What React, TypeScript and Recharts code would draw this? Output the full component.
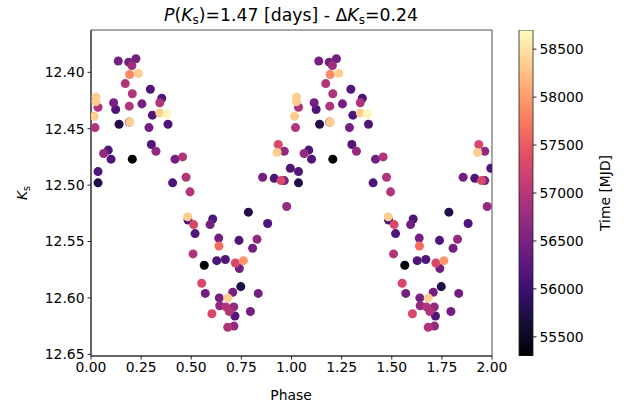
import React from 'react';
import { ScatterChart, Scatter, XAxis, YAxis, ZAxis, Cell, ReferenceArea, BarChart, Bar } from 'recharts';

// phase-folded observations (phase in [0,1)), plotted twice (phase and phase+1)
const phases = [
  0.136, 0.188, 0.224, 0.204, 0.193, 0.236, 0.171, 0.206, 0.296, 0.353,
  0.343, 0.254, 0.191, 0.113, 0.123, 0.025, 0.025, 0.035, 0.015, 0.020,
  0.140, 0.191, 0.193, 0.306, 0.343, 0.378, 0.384, 0.289, 0.301, 0.324,
  0.086, 0.063, 0.100, 0.206, 0.419, 0.457, 0.035, 0.035, 0.407, 0.474,
  0.494, 0.482, 0.484, 0.512, 0.519, 0.607, 0.594, 0.637, 0.638, 0.509,
  0.565, 0.627, 0.670, 0.720, 0.760, 0.740, 0.738, 0.828, 0.806, 0.785,
  0.881, 0.976, 0.552, 0.570, 0.747, 0.707, 0.682, 0.640, 0.642, 0.673,
  0.712, 0.690, 0.718, 0.603, 0.795, 0.834, 0.682, 0.713, 0.856, 0.914,
  0.948, 0.964, 0.934, 0.928, 0.964, 0.994,
];
const mags = [
  12.390, 12.391, 12.388, 12.394, 12.402, 12.401, 12.410, 12.419, 12.415, 12.423,
  12.427, 12.428, 12.430, 12.427, 12.433, 12.422, 12.426, 12.431, 12.439, 12.449,
  12.446, 12.444, 12.444, 12.438, 12.436, 12.437, 12.446, 12.449, 12.464, 12.470,
  12.469, 12.472, 12.477, 12.477, 12.477, 12.475, 12.488, 12.498, 12.498, 12.493,
  12.506, 12.528, 12.531, 12.535, 12.543, 12.530, 12.535, 12.547, 12.554, 12.561,
  12.571, 12.567, 12.566, 12.569, 12.567, 12.574, 12.549, 12.548, 12.556, 12.524,
  12.534, 12.519, 12.587, 12.596, 12.590, 12.595, 12.600, 12.600, 12.607, 12.608,
  12.608, 12.612, 12.616, 12.614, 12.612, 12.596, 12.626, 12.625, 12.493, 12.494,
  12.496, 12.496, 12.464, 12.471, 12.470, 12.485,
];
const times = [
  56450, 56450, 56450, 56800, 57850, 58350, 56950, 56950, 56150, 56150,
  56950, 56450, 56950, 56450, 56150, 58350, 58350, 56950, 58350, 56950,
  55750, 56450, 58350, 56150, 58350, 58650, 56150, 56450, 56150, 56700,
  56150, 56700, 56150, 55300, 56450, 56950, 56150, 55750, 56150, 56950,
  56950, 58350, 56150, 57300, 56150, 56150, 56450, 56450, 57650, 56950,
  55300, 56150, 56150, 57300, 57950, 56450, 56150, 56700, 56450, 55750,
  56150, 56700, 57300, 56450, 55750, 56450, 58350, 56450, 56700, 56950,
  56700, 56950, 56150, 57300, 56450, 56450, 56950, 56700, 56450, 56150,
  57300, 56450, 57300, 58350, 56700, 56150,
];

const xTicks = [0, 0.25, 0.5, 0.75, 1.0, 1.25, 1.5, 1.75, 2.0];
const yTicks = [12.4, 12.45, 12.5, 12.55, 12.6, 12.65];
const cbTicks = [55500, 56000, 56500, 57000, 57500, 58000, 58500];
const tMin = 55300;
const tMax = 58700;
const yDomain: [number, number] = [12.3625, 12.6515];

const magma = ['#000004', '#140e36', '#3b0f70', '#641a80', '#8c2981', '#b73779', '#de4968', '#f7705c', '#fe9f6d', '#fecf92', '#fcfdbf'];

function hexToRgb(h: string) {
  return [parseInt(h.slice(1, 3), 16), parseInt(h.slice(3, 5), 16), parseInt(h.slice(5, 7), 16)];
}
function magmaColor(f: number) {
  const v = Math.max(0, Math.min(1, f)) * (magma.length - 1);
  const i = Math.min(magma.length - 2, Math.floor(v));
  const t = v - i;
  const a = hexToRgb(magma[i]);
  const b = hexToRgb(magma[i + 1]);
  const c = a.map((x, k) => Math.round(x + (b[k] - x) * t));
  return `rgb(${c[0]},${c[1]},${c[2]})`;
}

const base = phases.map((p, i) => ({ phase: p, mag: mags[i], time: times[i] }));
const points = [...base, ...base.map((d) => ({ ...d, phase: d.phase + 1 }))].sort((a, b) => a.time - b.time);
const gradStops = [...magma].reverse();

const FONT = 'DejaVu Sans';
const tickStyle = { fontSize: 13.9, fill: '#000', fontFamily: FONT };

export default function App() {
  return (
    <div style={{ position: 'absolute', left: 0, top: 0, width: 628, height: 405, background: '#fff' }}>
      <div style={{ position: 'absolute', left: 0, top: 0 }}>
        <ScatterChart width={628} height={405} margin={{ top: 30, right: 136, bottom: 19, left: 31 }}>
          <XAxis
            type="number"
            dataKey="phase"
            domain={[0, 2]}
            ticks={xTicks}
            tickFormatter={(v: number) => v.toFixed(2)}
            tick={tickStyle}
            tickSize={3.5}
            tickMargin={3}
            height={30}
            stroke="#222"
            allowDataOverflow
          />
          <YAxis
            type="number"
            dataKey="mag"
            domain={yDomain}
            reversed
            ticks={yTicks}
            tickFormatter={(v: number) => v.toFixed(2)}
            tick={tickStyle}
            tickSize={3.5}
            tickMargin={3}
            width={60}
            stroke="#222"
            allowDataOverflow
          />
          <ZAxis range={[56, 56]} />
          <ReferenceArea x1={0} x2={2} y1={yDomain[0]} y2={yDomain[1]} fill="none" stroke="#222" strokeWidth={0.8} />
          <Scatter data={points} isAnimationActive={false}>
            {points.map((d, i) => (
              <Cell key={i} fill={magmaColor((d.time - tMin) / (tMax - tMin))} />
            ))}
          </Scatter>
        </ScatterChart>
      </div>
      <div style={{ position: 'absolute', left: 0, top: 0 }}>
        <BarChart
          width={628}
          height={405}
          data={[{ name: 'cb', range: [tMin, tMax] }]}
          margin={{ top: 30, right: 15, bottom: 49, left: 519 }}
          barCategoryGap={0}
        >
          <defs>
            <linearGradient id="magmaGrad" x1="0" y1="0" x2="0" y2="1">
              {gradStops.map((c, i) => (
                <stop key={i} offset={`${(i / (gradStops.length - 1)) * 100}%`} stopColor={c} />
              ))}
            </linearGradient>
          </defs>
          <XAxis dataKey="name" hide />
          <YAxis
            orientation="right"
            type="number"
            domain={[tMin, tMax]}
            ticks={cbTicks}
            tick={tickStyle}
            tickSize={3.5}
            tickMargin={3}
            width={80}
            axisLine={false}
            stroke="#222"
            allowDataOverflow
          />
          <Bar dataKey="range" fill="url(#magmaGrad)" stroke="#222" strokeWidth={0.8} isAnimationActive={false} />
        </BarChart>
      </div>
      <svg width={628} height={405} style={{ position: 'absolute', left: 0, top: 0, pointerEvents: 'none' }}>
        <text x={291} y={21} textAnchor="middle" fontFamily={FONT} fontSize={17.3} fill="#000">
          <tspan fontStyle="italic">P</tspan>
          <tspan>(</tspan>
          <tspan fontStyle="italic">K</tspan>
          <tspan fontSize={12} dy={3}>s</tspan>
          <tspan dy={-3}>)=1.47 [days] - Δ</tspan>
          <tspan fontStyle="italic">K</tspan>
          <tspan fontSize={12} dy={3}>s</tspan>
          <tspan dy={-3}>=0.24</tspan>
        </text>
        <text x={291} y={400} textAnchor="middle" fontFamily={FONT} fontSize={13.9} fill="#000">Phase</text>
        <text x={27} y={193} textAnchor="middle" fontFamily={FONT} fontSize={13.9} fill="#000" transform="rotate(-90 27 193)">
          <tspan fontStyle="italic">K</tspan>
          <tspan fontSize={9.7} dy={2.5}>s</tspan>
        </text>
        <text x={610} y={193} textAnchor="middle" fontFamily={FONT} fontSize={13.9} fill="#000" transform="rotate(-90 610 193)">Time [MJD]</text>
      </svg>
    </div>
  );
}
